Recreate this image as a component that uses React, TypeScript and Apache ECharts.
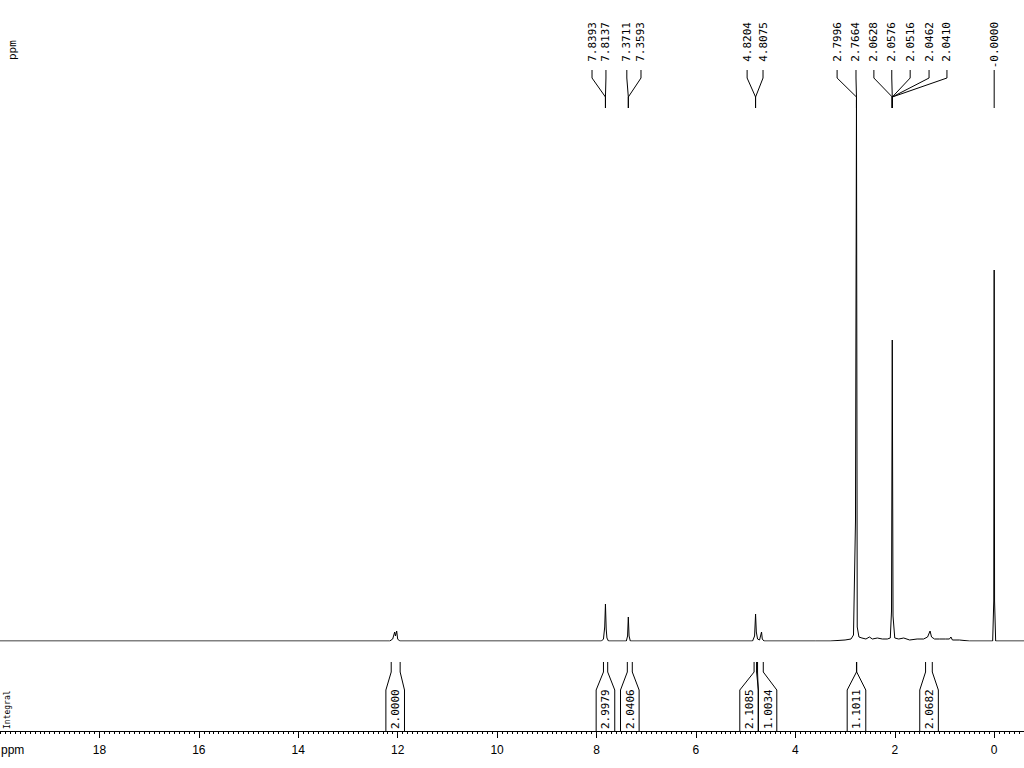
import React, { useEffect, useRef } from "react";
import * as echarts from "echarts";

// ---- spectrum (ppm, intensity) ----
const spectrumPpm = [
  20.0, 12.16, 12.1, 12.06, 12.045, 12.02, 12.0, 11.96,
  7.9, 7.86, 7.835, 7.82, 7.805, 7.79, 7.76,
  7.4, 7.375, 7.36, 7.345, 7.32,
  4.86, 4.82, 4.8, 4.785, 4.76, 4.72, 4.68, 4.665, 4.63,
  3.6, 3.3, 3.0, 2.88, 2.83, 2.79, 2.77, 2.755, 2.72, 2.66, 2.58, 2.51, 2.45, 2.35, 2.25, 2.15, 2.09,
  2.065, 2.05, 2.035, 2.0, 1.92, 1.82, 1.7, 1.55, 1.42, 1.34, 1.29, 1.26, 1.2, 1.1, 0.98, 0.9, 0.87, 0.84, 0.7, 0.5,
  0.03, 0.008, 0.0, -0.008, -0.03, -0.6,
];
const spectrumIntensity = [
  0, 0, 2, 9, 5, 10, 2, 0,
  0, 2, 14, 37, 12, 3, 0,
  0, 5, 24, 5, 0,
  0, 5, 27, 9, 2, 1, 9, 2, 0,
  0, 0, 1, 2, 6, 120, 541, 14, 4, 3, 2, 4, 2, 3, 2, 2, 3,
  30, 301, 25, 3, 2, 3, 1, 2, 2, 4, 10, 4, 2, 2, 2, 2, 4, 1, 1, 0,
  0, 40, 371, 40, 0, 0,
];

// ---- peak picking labels ----
const peakLabels = [
  "7.8393", "7.8137", "7.3711", "7.3593", "4.8204", "4.8075",
  "2.7996", "2.7664", "2.0628", "2.0576", "2.0516", "2.0462", "2.0410", "-0.0000",
];
const peakTargetPpm = [7.82, 7.82, 7.36, 7.36, 4.8, 4.8, 2.77, 2.77, 2.05, 2.05, 2.05, 2.05, 2.05, 0.0];
const peakLabelPpm = [8.09, 7.81, 7.39, 7.105, 4.97, 4.65, 3.16, 2.78, 2.42, 2.06, 1.69, 1.31, 0.95, 0.0];

// ---- integrals ----
const integralValues = [2.0, 2.9979, 2.0406, 2.1085, 1.0034, 1.1011, 2.0682];
const integralFrom = [12.13, 7.86, 7.38, 4.83, 4.76, 2.77, 1.38];
const integralTo = [11.95, 7.775, 7.28, 4.78, 4.645, 2.765, 1.245];
const integralLabelPpm = [12.05, 7.82, 7.33, 4.93, 4.56, 2.77, 1.31];

// ---- axis ticks ----
const majorTicks = [0, 2, 4, 6, 8, 10, 12, 14, 16, 18];
const minorTicks: number[] = [];
for (let i = -6; i <= 200; i++) minorTicks.push(i / 10);

const X_MIN = -0.6;
const X_MAX = 20;
const MONO = "DejaVu Sans Mono";

export default function App() {
  const ref = useRef<HTMLDivElement>(null);

  useEffect(() => {
    if (!ref.current) return;
    const chart = echarts.init(ref.current, undefined, { renderer: "svg" });

    const spectrum = spectrumPpm.map((p, i) => [p, spectrumIntensity[i]]);
    const peakData = peakTargetPpm.map((p, i) => [p, peakLabelPpm[i]]);
    const integralData = integralValues.map((v, i) => [integralFrom[i], integralTo[i], integralLabelPpm[i], v]);

    const option: any = {
      animation: false,
      backgroundColor: "#fff",
      grid: [
        { left: 0, right: 0, top: 100, bottom: 127 },
        { left: 0, right: 0, top: 645, bottom: 37 },
      ],
      xAxis: [
        { type: "value", gridIndex: 0, min: X_MIN, max: X_MAX, inverse: true, show: false },
        {
          type: "value",
          gridIndex: 1,
          position: "bottom",
          min: X_MIN,
          max: X_MAX,
          inverse: true,
          splitLine: { show: false },
          axisLine: { show: true, onZero: false, lineStyle: { color: "#000", width: 1 } },
          axisTick: { show: true, customValues: majorTicks, length: 7, lineStyle: { color: "#000" } },
          axisLabel: {
            show: true,
            customValues: majorTicks,
            color: "#000",
            fontSize: 12,
            fontFamily: "Liberation Sans",
            margin: 13,
          },
        },
        {
          type: "value",
          gridIndex: 1,
          position: "bottom",
          offset: 0,
          min: X_MIN,
          max: X_MAX,
          inverse: true,
          splitLine: { show: false },
          axisLine: { show: false, onZero: false },
          axisTick: { show: true, customValues: minorTicks, length: 3, lineStyle: { color: "#000" } },
          axisLabel: { show: false },
        },
      ],
      yAxis: [
        { type: "value", gridIndex: 0, min: 0, max: 541, show: false },
        { type: "value", gridIndex: 1, min: 0, max: 86, show: false },
      ],
      graphic: [
        {
          type: "text",
          x: 12.5,
          y: 60,
          rotation: Math.PI / 2,
          style: { text: "ppm", font: `11px ${MONO}`, fill: "#000", align: "left", verticalAlign: "middle" },
        },
        {
          type: "text",
          x: 7,
          y: 729,
          rotation: Math.PI / 2,
          style: { text: "Integral", font: `8px ${MONO}`, fill: "#000", align: "left", verticalAlign: "middle" },
        },
        {
          type: "text",
          x: 1,
          y: 750,
          style: { text: "ppm", font: "12px Liberation Sans", fill: "#000", align: "left", verticalAlign: "middle" },
        },
      ],
      series: [
        {
          type: "line",
          xAxisIndex: 0,
          yAxisIndex: 0,
          data: spectrum,
          showSymbol: false,
          symbol: "none",
          clip: true,
          silent: true,
          lineStyle: { color: "#000", width: 1 },
        },
        {
          type: "custom",
          xAxisIndex: 0,
          yAxisIndex: 0,
          data: peakData,
          clip: false,
          silent: true,
          renderItem: (params: any, api: any) => {
            const i = params.dataIndex;
            const px = api.coord([api.value(0), 0])[0];
            const lx = api.coord([api.value(1), 0])[0];
            return {
              type: "group",
              children: [
                {
                  type: "polyline",
                  shape: { points: [[lx, 70], [lx, 78], [px, 97], [px, 108]] },
                  style: { stroke: "#000", lineWidth: 1, fill: null },
                },
                {
                  type: "text",
                  x: lx,
                  y: 22,
                  rotation: Math.PI / 2,
                  style: {
                    text: peakLabels[i],
                    font: `11px ${MONO}`,
                    fill: "#000",
                    align: "right",
                    verticalAlign: "middle",
                  },
                },
              ],
            };
          },
        },
        {
          type: "custom",
          xAxisIndex: 1,
          yAxisIndex: 1,
          data: integralData,
          clip: false,
          silent: true,
          renderItem: (params: any, api: any) => {
            const xf = api.coord([api.value(0), 0])[0];
            const xt = api.coord([api.value(1), 0])[0];
            const cx = api.coord([api.value(2), 0])[0];
            const ax = api.coord([api.value(2), 0])[1];
            const hw = 9.3;
            const top = ax - 69;
            const mid = ax - 59;
            const box = ax - 41;
            return {
              type: "group",
              children: [
                {
                  type: "polyline",
                  shape: { points: [[xf, top], [xf, mid], [cx - hw, box], [cx - hw, ax]] },
                  style: { stroke: "#000", lineWidth: 1, fill: null },
                },
                {
                  type: "polyline",
                  shape: { points: [[xt, top], [xt, mid], [cx + hw, box], [cx + hw, ax]] },
                  style: { stroke: "#000", lineWidth: 1, fill: null },
                },
                {
                  type: "text",
                  x: cx + 0.5,
                  y: ax - 2,
                  rotation: Math.PI / 2,
                  style: {
                    text: Number(api.value(3)).toFixed(4),
                    font: `11px ${MONO}`,
                    fill: "#000",
                    align: "left",
                    verticalAlign: "middle",
                  },
                },
              ],
            };
          },
        },
      ],
    };

    chart.setOption(option);
    return () => chart.dispose();
  }, []);

  return (
    <div
      ref={ref}
      style={{ position: "absolute", left: 0, top: 0, width: 1024, height: 768, background: "#fff" }}
    />
  );
}
